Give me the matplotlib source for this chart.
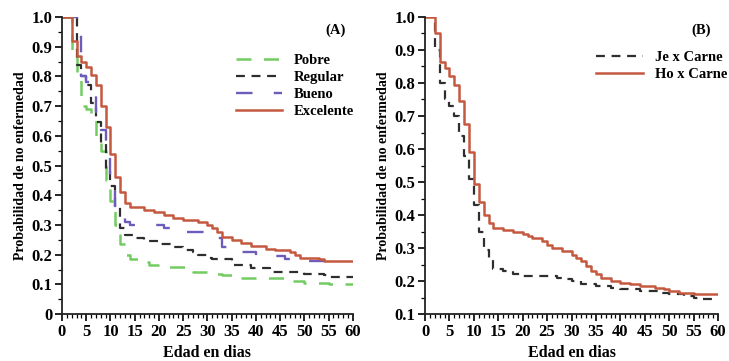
import matplotlib
matplotlib.use("Agg")
import matplotlib.pyplot as plt
from matplotlib.ticker import MultipleLocator

# Curvas de supervivencia (Kaplan-Meier): día del paso y valor tras el paso
# Panel A: condición corporal
pobre_t = [0, 2, 3, 4, 5, 6, 7, 8, 9, 10, 11, 12, 13, 14, 16, 18, 20, 27, 30, 33, 36, 46, 50, 55, 60]
pobre_s = [1.0, 0.89, 0.80, 0.70, 0.69, 0.655, 0.60, 0.55, 0.45, 0.38, 0.30, 0.235, 0.20, 0.185,
           0.175, 0.165, 0.16, 0.14, 0.135, 0.13, 0.12, 0.11, 0.105, 0.10, 0.10]

regular_t = [0, 3, 4, 5, 6, 7, 8, 9, 10, 11, 12, 13, 15, 17, 20, 23, 25, 27, 28, 30, 31, 35,
             39, 43, 50, 54, 55, 60]
regular_s = [1.0, 0.84, 0.80, 0.77, 0.71, 0.645, 0.575, 0.485, 0.43, 0.36, 0.29, 0.265, 0.255,
             0.245, 0.235, 0.225, 0.215, 0.21, 0.20, 0.19, 0.185, 0.165, 0.155, 0.14, 0.135,
             0.13, 0.125, 0.125]

bueno_t = [0, 3, 4, 5, 6, 7, 8, 9, 10, 11, 12, 13, 14, 21, 24, 30, 33, 36, 40, 46, 50, 55, 58]
bueno_s = [1.0, 0.94, 0.80, 0.78, 0.75, 0.68, 0.62, 0.55, 0.45, 0.365, 0.33, 0.31, 0.30, 0.29,
           0.275, 0.255, 0.225, 0.21, 0.195, 0.185, 0.18, 0.17, 0.17]

excelente_t = [0, 2, 3, 4, 5, 6, 7, 8, 9, 10, 11, 12, 13, 14, 17, 19, 21, 23, 25, 28, 30, 31,
               32, 33, 35, 37, 39, 42, 44, 47, 48, 49, 53, 54, 60]
excelente_s = [1.0, 0.92, 0.87, 0.85, 0.83, 0.805, 0.77, 0.70, 0.63, 0.54, 0.46, 0.41, 0.375,
               0.36, 0.35, 0.345, 0.335, 0.325, 0.315, 0.31, 0.30, 0.29, 0.275, 0.26, 0.25,
               0.24, 0.23, 0.22, 0.215, 0.21, 0.20, 0.19, 0.185, 0.18, 0.18]

# Panel B: cruces
je_t = [0, 2, 3, 4, 5, 6, 7, 8, 9, 10, 11, 12, 13, 14, 16, 18, 20, 27, 29, 30, 32, 35, 38,
        40, 44, 48, 50, 53, 55, 57, 60]
je_s = [1.0, 0.90, 0.80, 0.75, 0.73, 0.70, 0.64, 0.58, 0.51, 0.43, 0.35, 0.295, 0.27, 0.236,
        0.23, 0.22, 0.215, 0.21, 0.205, 0.20, 0.19, 0.185, 0.18, 0.175, 0.17, 0.165, 0.16,
        0.155, 0.15, 0.145, 0.145]

ho_t = [0, 2, 3, 4, 5, 6, 7, 8, 9, 10, 11, 12, 13, 14, 16, 18, 20, 21, 22, 24, 25, 26, 28,
        30, 31, 32, 33, 34, 35, 36, 38, 40, 42, 44, 47, 49, 50, 52, 55, 60]
ho_s = [1.0, 0.95, 0.865, 0.845, 0.82, 0.795, 0.745, 0.675, 0.59, 0.495, 0.44, 0.40, 0.375,
        0.362, 0.355, 0.35, 0.343, 0.335, 0.33, 0.32, 0.31, 0.30, 0.29, 0.28, 0.27, 0.26,
        0.245, 0.23, 0.22, 0.21, 0.20, 0.195, 0.19, 0.185, 0.18, 0.175, 0.17, 0.165, 0.16, 0.16]

ROJO = "#c4593f"
VERDE = "#72cc62"
MORADO = "#6e5cbc"
NEGRO = "#2e2e2e"

plt.rcParams.update({
    "font.family": "Liberation Serif",
    "font.weight": "bold",
    "axes.labelweight": "bold",
    "axes.spines.top": False,
    "axes.spines.right": False,
})

fig = plt.figure(figsize=(7.29, 3.61), dpi=100, facecolor="white")
ax_a = fig.add_axes([0.085, 0.130, 0.399, 0.823])
ax_b = fig.add_axes([0.583, 0.130, 0.402, 0.823])


def estilo_ejes(ax, ymin):
    ax.set_xlim(0, 60)
    ax.set_ylim(ymin, 1.0)
    ax.xaxis.set_major_locator(MultipleLocator(5))
    ax.xaxis.set_minor_locator(MultipleLocator(1))
    ax.yaxis.set_major_locator(MultipleLocator(0.1))
    ax.yaxis.set_minor_locator(MultipleLocator(0.05))
    ax.yaxis.set_major_formatter(plt.FuncFormatter(lambda v, _: f"{v:.1f}" if v > 0.001 else "0"))
    ax.tick_params(which="major", direction="out", length=5, width=1.2, labelsize=12, pad=2)
    ax.tick_params(which="minor", direction="out", length=3, width=0.9)
    for s in ("left", "bottom"):
        ax.spines[s].set_linewidth(1.3)
        ax.spines[s].set_color("#222222")
    ax.set_xlabel("Edad en dias", fontsize=11.5, labelpad=4)
    ax.set_ylabel("Probabilidad de no enfermedad", fontsize=10, labelpad=3)
    ax.margins(0)


# Panel A
ax_a.step(pobre_t, pobre_s, where="post", color=VERDE, lw=1.8, dashes=(6, 5), label="Pobre")
ax_a.step(regular_t, regular_s, where="post", color=NEGRO, lw=1.6, dashes=(4, 3), label="Regular")
ax_a.step(bueno_t, bueno_s, where="post", color=MORADO, lw=1.7, dashes=(7, 9), label="Bueno")
ax_a.step(excelente_t, excelente_s, where="post", color=ROJO, lw=1.8, label="Excelente")
estilo_ejes(ax_a, 0.0)
ax_a.text(0.975, 0.955, "(A)", transform=ax_a.transAxes, ha="right", va="center", fontsize=10.5)
ax_a.legend(loc="upper right", bbox_to_anchor=(1.035, 0.905), frameon=False, fontsize=10.5,
            handlelength=3.2, handletextpad=0.8, labelspacing=0.25, borderaxespad=0.2)

# Panel B
ax_b.step(je_t, je_s, where="post", color=NEGRO, lw=1.6, dashes=(4, 3), label="Je x Carne")
ax_b.step(ho_t, ho_s, where="post", color=ROJO, lw=1.8, label="Ho x Carne")
estilo_ejes(ax_b, 0.1)
ax_b.text(0.975, 0.955, "(B)", transform=ax_b.transAxes, ha="right", va="center", fontsize=10.5)
ax_b.legend(loc="upper right", bbox_to_anchor=(1.05, 0.905), frameon=False, fontsize=10.5,
            handlelength=3.2, handletextpad=0.8, labelspacing=0.25, borderaxespad=0.0)

fig.savefig("out.png", dpi=100, facecolor="white")
